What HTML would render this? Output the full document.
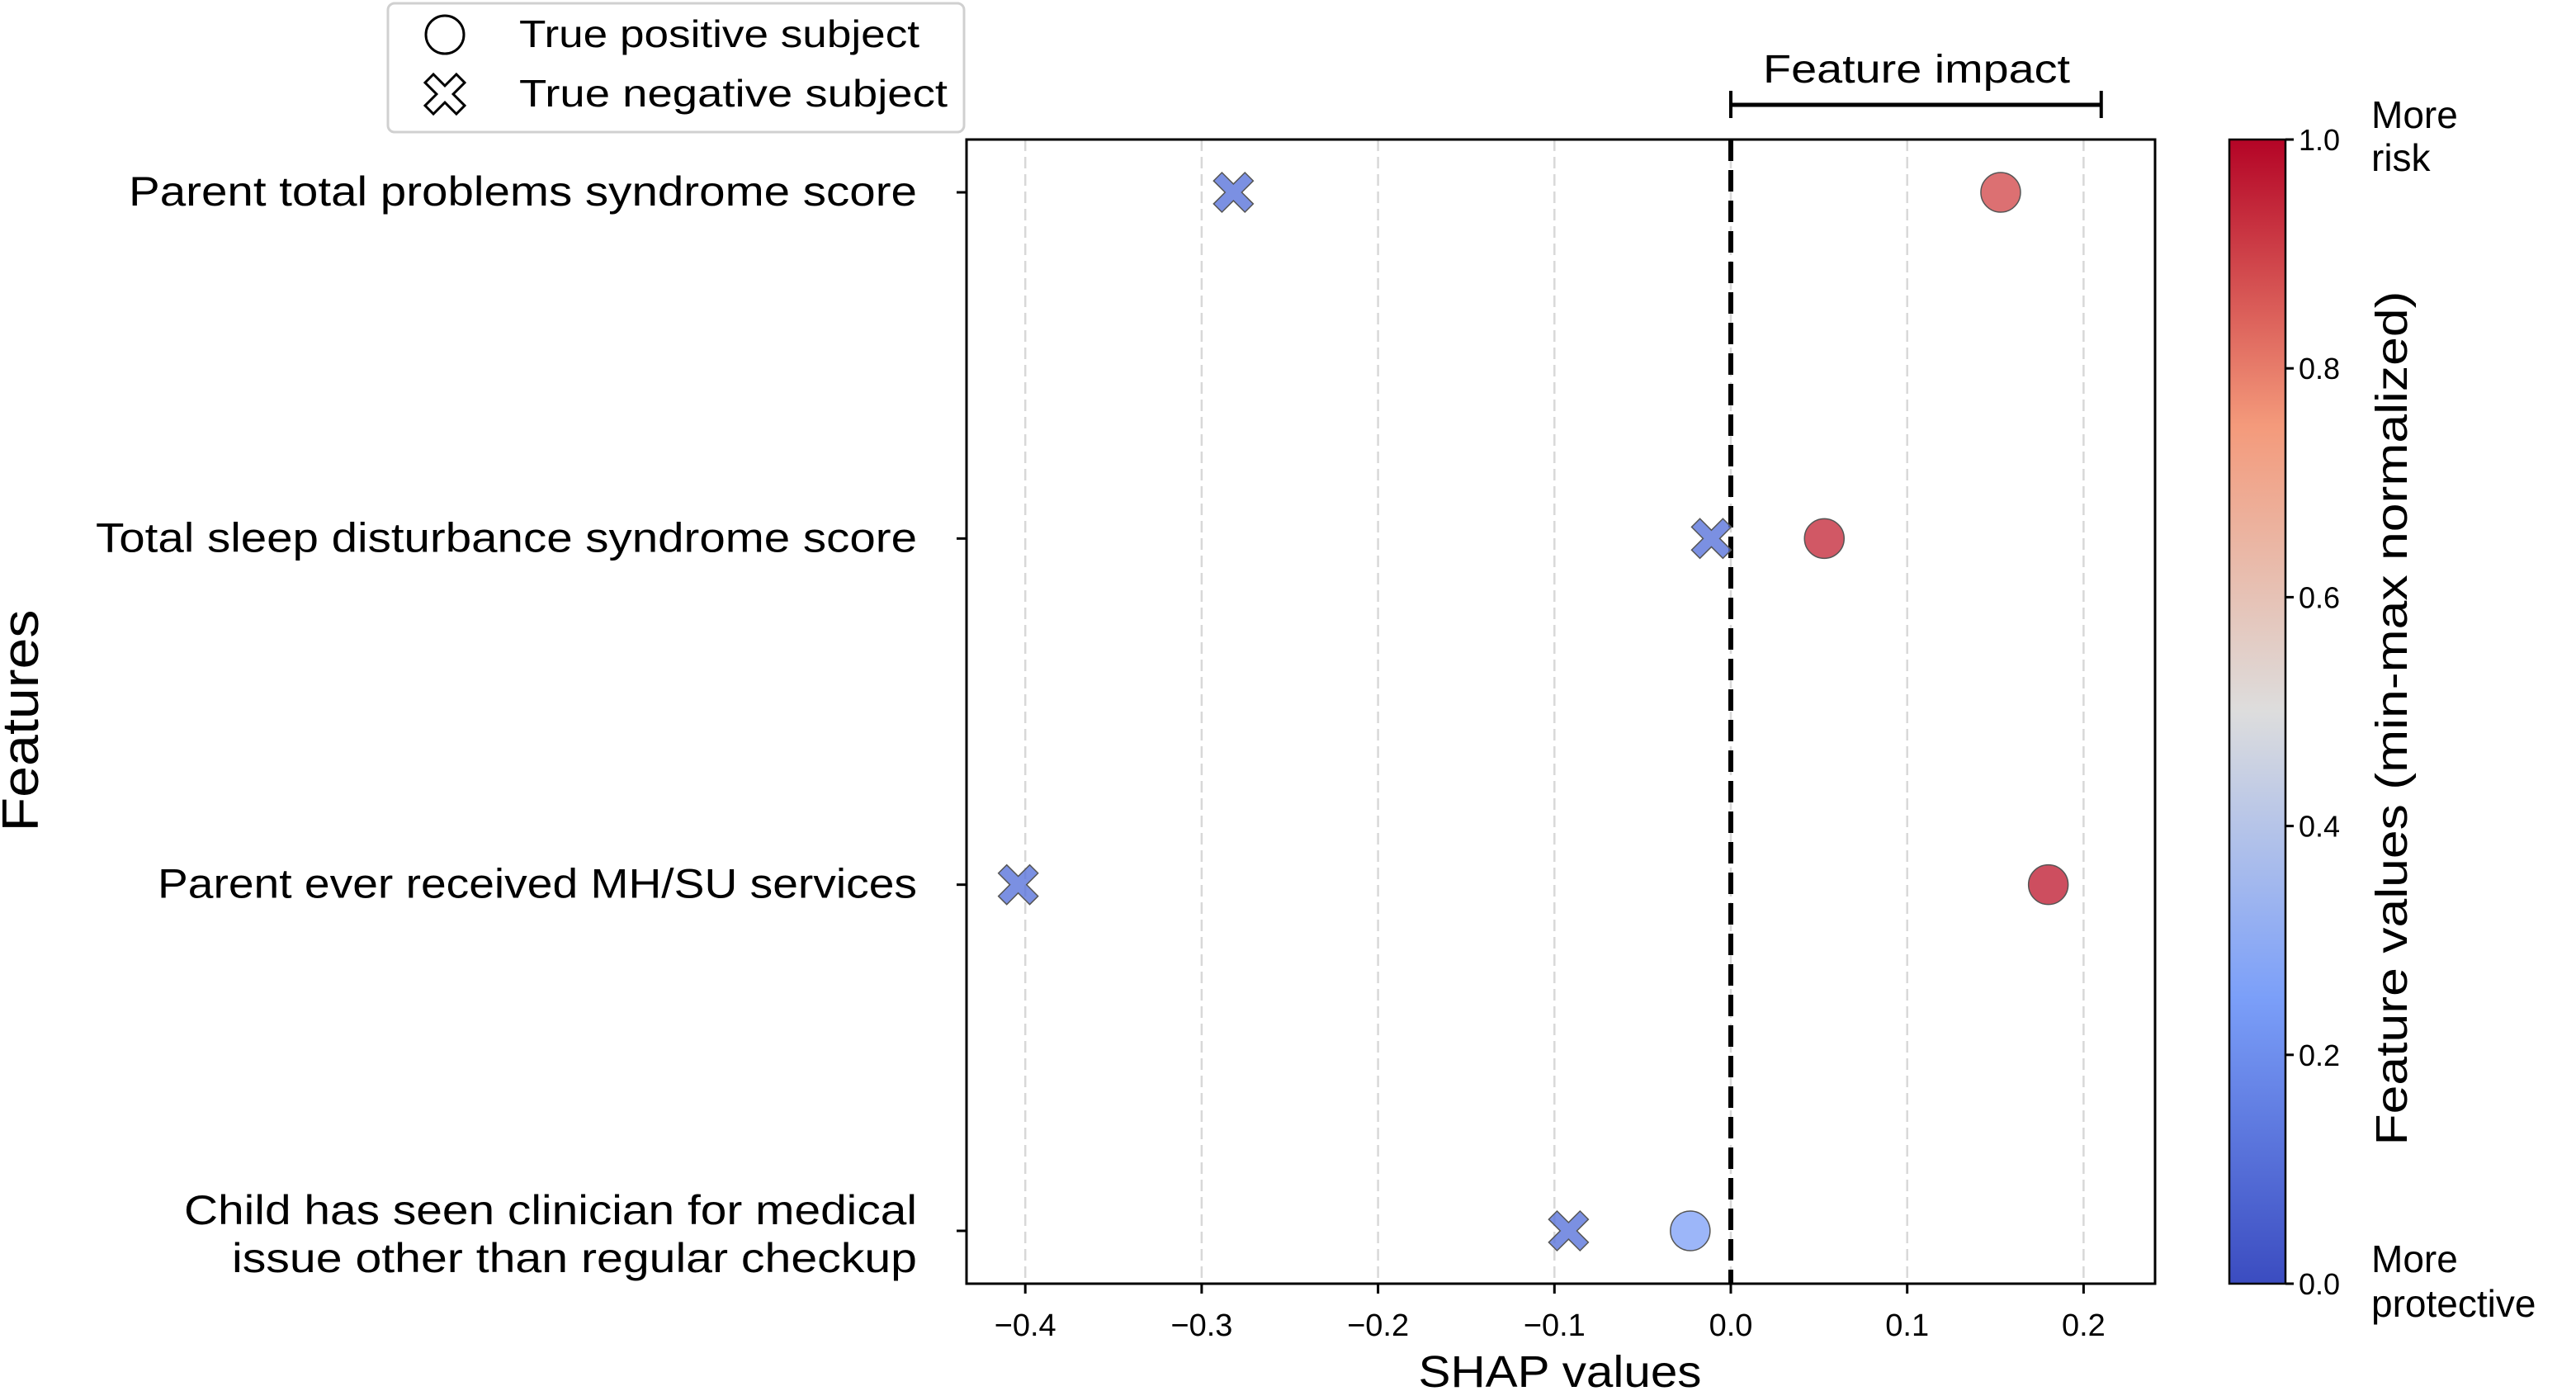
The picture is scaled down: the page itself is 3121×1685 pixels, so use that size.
<!DOCTYPE html>
<html><head><meta charset="utf-8"><style>
html,body{margin:0;padding:0;background:#fff;}
svg{display:block;font-family:"Liberation Sans",sans-serif;}
</style></head><body>
<svg id="chart" width="3121" height="1685" viewBox="0 0 3121 1685" xmlns="http://www.w3.org/2000/svg">
<defs>
<linearGradient id="cw" x1="0" y1="1" x2="0" y2="0">
<stop offset="0" stop-color="#3b4cc0"/><stop offset="0.25" stop-color="#7b9ff9"/><stop offset="0.5" stop-color="#dddddd"/><stop offset="0.75" stop-color="#f49a7b"/><stop offset="1" stop-color="#b40426"/>
</linearGradient>
</defs>
<g id="grid"></g>
<g id="marks"></g>
<g id="axes"></g>
</svg>
<script>
const features = ["Parent total problems syndrome score","Total sleep disturbance syndrome score","Parent ever received MH/SU services","Child has seen clinician for medical|issue other than regular checkup"];
const negShap = [-0.282,-0.011,-0.404,-0.092];
const posShap = [0.153,0.053,0.180,-0.023];
const negFeat = [0.12,0.12,0.12,0.12];
const posFeat = [0.88,0.93,0.95,0.27];
const xTicks = [-0.4,-0.3,-0.2,-0.1,0.0,0.1,0.2];
const cTicks = [0.0,0.2,0.4,0.6,0.8,1.0];

const NS="http://www.w3.org/2000/svg";
const L=1171,R=2611,T=169,B=1555;
const X0=2097, PX=213.7;
const xs=v=>X0+v*PX*10;
const rowY=[233,653,1073,1491];
const ys=i=>rowY[0]+i*(rowY[3]-rowY[0])/3;
const CBL=2701,CBR=2769;
const cy=v=>B-v*(B-T);
const labelW=[[955],[995],[920],[888,830]];
function mk(tag,attrs,parent,text){const e=document.createElementNS(NS,tag);for(const k in attrs)e.setAttribute(k,attrs[k]);if(text!=null)e.textContent=text;parent.appendChild(e);return e;}
const stops=[[0,[59,76,192]],[0.25,[123,159,249]],[0.5,[221,221,221]],[0.75,[244,154,123]],[1,[180,4,38]]];
function cmap(v){for(let i=0;i<stops.length-1;i++){const a=stops[i],b=stops[i+1];if(v<=b[0]){const t=(v-a[0])/(b[0]-a[0]);return 'rgb('+a[1].map((c,j)=>Math.round(c+(b[1][j]-c)*t)).join(',')+')';}}return 'rgb(180,4,38)';}
const svg=document.getElementById('chart'),grid=document.getElementById('grid'),marks=document.getElementById('marks'),axes=document.getElementById('axes');

// legend
const lg=mk('g',{},svg);


mk('rect',{x:470,y:4,width:698,height:156,rx:8,fill:'#fff',stroke:'#d0d0d0','stroke-width':3},lg);
mk('circle',{cx:539,cy:42,r:23,fill:'none',stroke:'#000','stroke-width':3},lg);
function xPoly(cx,cy,r){const w=r*0.42;const pts=[[0,w],[r-w,r],[r,r-w],[w,0],[r,-(r-w)],[r-w,-r],[0,-w],[-(r-w),-r],[-r,-(r-w)],[-w,0],[-r,r-w],[-(r-w),r]];return pts.map(q=>(cx+q[0])+','+(cy+q[1])).join(' ');}
mk('polygon',{points:xPoly(539,114,24),fill:'none',stroke:'#000','stroke-width':3},lg);
mk('text',{x:629,y:57,'font-size':46,textLength:485,lengthAdjust:'spacingAndGlyphs'},lg,'True positive subject');
mk('text',{x:629,y:129,'font-size':46,textLength:519,lengthAdjust:'spacingAndGlyphs'},lg,'True negative subject');

// grid
xTicks.forEach(v=>{const l=mk('line',{x1:xs(v),x2:xs(v),y1:T,y2:B,stroke:'#d8d8d8','stroke-width':2.5,'stroke-dasharray':'14,7'},grid);

});
const z=mk('line',{x1:xs(0),x2:xs(0),y1:T,y2:B,stroke:'#000','stroke-width':6,'stroke-dasharray':'26,11'},grid);



// markers
features.forEach((f,i)=>{
  const y=ys(i);
  const p=mk('polygon',{points:xPoly(xs(negShap[i]),y,24),fill:cmap(negFeat[i]),'fill-opacity':0.8,stroke:'#555','stroke-width':1.5},marks);
  
  
  const c=mk('circle',{cx:xs(posShap[i]),cy:y,r:24,fill:cmap(posFeat[i]),'fill-opacity':0.8,stroke:'#555','stroke-width':1.5},marks);
  
  
});

// axes frame
mk('rect',{x:L,y:T,width:R-L,height:B-T,fill:'none',stroke:'#000','stroke-width':3},axes);
xTicks.forEach(v=>{mk('line',{x1:xs(v),x2:xs(v),y1:B,y2:B+12,stroke:'#000','stroke-width':3},axes);
const t=mk('text',{x:xs(v),y:1618,'font-size':38,'text-anchor':'middle'},axes,(v<0?'\u2212':'')+Math.abs(v).toFixed(1));

});
features.forEach((f,i)=>{const y=ys(i);mk('line',{x1:L-12,x2:L,y1:y,y2:y,stroke:'#000','stroke-width':3},axes);
const parts=f.split('|');
parts.forEach((p,k)=>{const t=mk('text',{x:1111,y:parts.length==1?y+16:(k==0?y-8:y+50),'font-size':50,'text-anchor':'end',textLength:labelW[i][k],lengthAdjust:'spacingAndGlyphs'},axes,p);

});});
const xt=mk('text',{x:1890,y:1680,'font-size':54,'text-anchor':'middle',textLength:343,lengthAdjust:'spacingAndGlyphs'},axes,'SHAP values');


const yt=mk('text',{x:0,y:0,'font-size':62,'text-anchor':'middle',textLength:269,lengthAdjust:'spacingAndGlyphs',transform:'translate(46,873) rotate(-90)'},axes,'Features');



// feature impact bracket
mk('line',{x1:xs(0),x2:xs(0.21),y1:127,y2:127,stroke:'#000','stroke-width':5},axes);
mk('line',{x1:xs(0),x2:xs(0),y1:110,y2:143,stroke:'#000','stroke-width':4},axes);
mk('line',{x1:xs(0.21),x2:xs(0.21),y1:110,y2:143,stroke:'#000','stroke-width':4},axes);
const fi=mk('text',{x:2322,y:100,'font-size':48,'text-anchor':'middle',textLength:372,lengthAdjust:'spacingAndGlyphs'},axes,'Feature impact');



// colorbar
const cb=mk('rect',{x:CBL,y:T,width:CBR-CBL,height:B-T,fill:'url(#cw)',stroke:'#000','stroke-width':2.5},axes);


cTicks.forEach(v=>{mk('line',{x1:CBR,x2:CBR+10,y1:cy(v),y2:cy(v),stroke:'#000','stroke-width':3},axes);
const t=mk('text',{x:CBR+16,y:cy(v)+13,'font-size':36},axes,v.toFixed(1));

});
const ct=mk('text',{x:0,y:0,'font-size':54,'text-anchor':'middle',textLength:1035,lengthAdjust:'spacingAndGlyphs',transform:'translate(2916,870) rotate(-90)'},axes,'Feature values (min-max normalized)');


[['More',155],['risk',207],['More',1541],['protective',1595]].forEach(a=>{mk('text',{x:2873,y:a[1],'font-size':46},axes,a[0]);});
</script>
</body></html>
